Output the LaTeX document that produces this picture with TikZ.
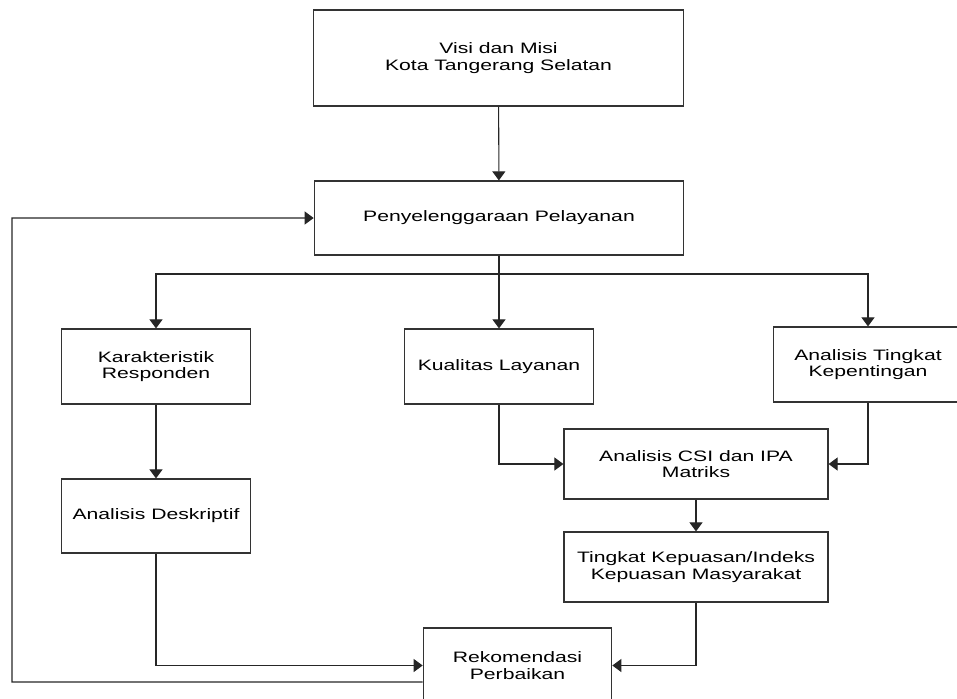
\documentclass[tikz,border=0pt]{standalone}
\usepackage{fontspec}
\setmainfont{Liberation Sans}
\newfontfamily\boxfont[FakeStretch=1.4]{Liberation Sans}
\usetikzlibrary{arrows.meta,positioning}
\tikzset{
  flowbox/.style={draw=black!80,line width=0.7pt,fill=white,align=center,inner sep=2pt,
    font=\boxfont\fontsize{8.6}{9.3}\selectfont},
  smallbox/.style={flowbox,minimum width=3.77cm,minimum height=1.5cm},
  widebox/.style={flowbox,minimum width=5.28cm,minimum height=1.4cm},
  topbox/.style={flowbox,minimum width=7.39cm},
  flowarrow/.style={-{Triangle[length=0.18cm,width=0.26cm]},line width=0.6pt,draw=black!85},
  flowline/.style={line width=0.6pt,draw=black!85}
}
\begin{document}
\begin{tikzpicture}[x=0.02cm,y=-0.02cm]
  \useasboundingbox (0,0) rectangle (957,698);
  \clip (0,0) rectangle (957,698);
  % boxes
  \node[topbox,minimum height=1.92cm] (visi) at (498.5,58) {Visi dan Misi\\Kota Tangerang Selatan};
  \node[topbox,minimum height=1.48cm] (peny) at (499,218) {Penyelenggaraan Pelayanan};
  \node[smallbox] (karak) at (156,366.5) {Karakteristik\\Responden};
  \node[smallbox] (kual) at (499,366.5) {Kualitas Layanan};
  \node[smallbox] (penting) at (868,364.5) {Analisis Tingkat\\Kepentingan};
  \node[widebox] (csi) at (696,464) {Analisis CSI dan IPA\\Matriks};
  \node[smallbox,minimum height=1.48cm] (deskr) at (156,516) {Analisis Deskriptif};
  \node[widebox] (puas) at (696,567) {Tingkat Kepuasan/Indeks\\Kepuasan Masyarakat};
  \node[smallbox] (rekom) at (517.5,665.5) {Rekomendasi\\Perbaikan};
  \coordinate (split) at (499,274);
  \coordinate (loop) at (12,682);
  % connectors
  \draw[flowarrow] (visi) -- (peny);
  \draw[flowline] (peny) -- (split);
  \draw[flowarrow] (split) -| (karak);
  \draw[flowarrow] (split) -| (penting);
  \draw[flowarrow] (split) -- (kual);
  \draw[flowarrow] (karak) -- (deskr);
  \draw[flowarrow] (kual) |- (csi);
  \draw[flowarrow] (penting) |- (csi);
  \draw[flowarrow] (csi) -- (puas);
  \draw[flowarrow] (deskr) |- (rekom);
  \draw[flowarrow] (puas) |- (rekom);
  \draw[flowarrow] ([yshift=-0.33cm]rekom.west) -- (loop) |- (peny);
\end{tikzpicture}
\end{document}
